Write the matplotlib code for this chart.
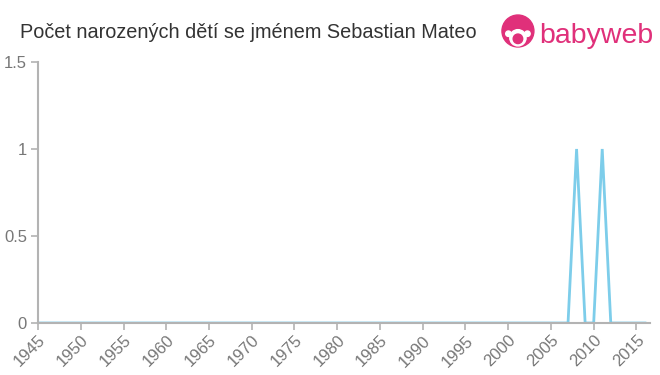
import matplotlib
matplotlib.use("Agg")
import matplotlib.pyplot as plt
from matplotlib.patches import Circle

plt.rcParams['font.family'] = ['Liberation Sans', 'DejaVu Sans']

# data
roky = list(range(1945, 2017))
pocty = [0] * len(roky)
pocty[roky.index(2008)] = 1
pocty[roky.index(2011)] = 1
x_ticks = list(range(1945, 2016, 5))
y_ticks = [0, 0.5, 1, 1.5]
y_labels = ['0', '0.5', '1', '1.5']

fig = plt.figure(figsize=(6.6, 3.75), dpi=100)
ax = fig.add_axes([0.0576, 0.1387, 0.9274, 0.696])

ax.plot(roky, pocty, color='#7dcdea', linewidth=2, solid_joinstyle='miter')
ax.set_xlim(1945, 2016.6)
ax.set_ylim(0, 1.5)

ax.set_xticks(x_ticks)
ax.set_xticklabels([str(r) for r in x_ticks], rotation=45, ha='right',
                   rotation_mode='anchor', color='#777777', fontsize=12)
ax.set_yticks(y_ticks)
ax.set_yticklabels(y_labels, color='#777777', fontsize=12)

for s in ['top', 'right']:
    ax.spines[s].set_visible(False)
for s in ['left', 'bottom']:
    ax.spines[s].set_color('#b3b3b3')
    ax.spines[s].set_linewidth(1.5)
ax.tick_params(axis='both', color='#b3b3b3', length=5, width=1.2)
ax.tick_params(axis='y', pad=3)
ax.tick_params(axis='x', pad=2)

fig.text(0.03, 0.912, 'Počet narozených dětí se jménem Sebastian Mateo',
         fontsize=14.3, color='#333333', va='center', ha='left')

# logo
pink = '#e0307a'
logo = fig.add_axes([0.759, 0.872, 0.0515, 0.0907])
logo.set_xlim(0, 1)
logo.set_ylim(0, 1)
logo.set_aspect('equal')
logo.axis('off')
logo.add_patch(Circle((0.5, 0.5), 0.47, color=pink))
logo.add_patch(Circle((0.5, 0.3), 0.24, color='white'))
logo.add_patch(Circle((0.5, 0.27), 0.14, color=pink))
logo.add_patch(Circle((0.22, 0.42), 0.08, color='white'))
logo.add_patch(Circle((0.78, 0.42), 0.08, color='white'))
fig.text(0.817, 0.905, 'babyweb', fontsize=20.5, color=pink, va='center', ha='left')

fig.savefig('out.png', dpi=100)
